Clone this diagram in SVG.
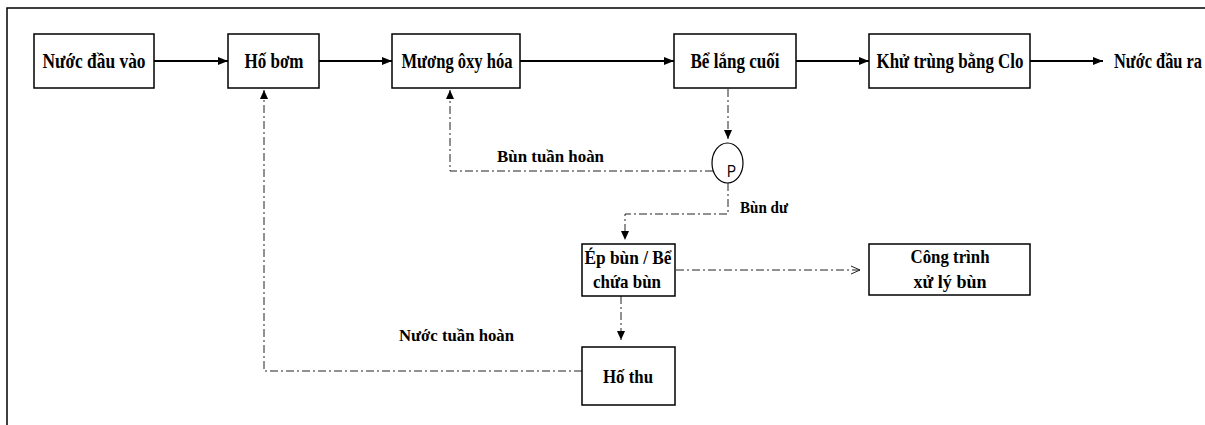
<svg xmlns="http://www.w3.org/2000/svg" width="1205" height="425" viewBox="0 0 1205 425">
  <style>
    .box { fill: #fff; stroke: #000; stroke-width: 1.5; }
    .t { font-family: "Liberation Serif", "Times New Roman", serif; font-weight: bold; fill: #000; }
    .t20 { font-size: 21px; }
    .t18 { font-size: 19px; }
    .t17 { font-size: 17px; }
    .solid { fill: none; stroke: #000; stroke-width: 1.8; }
    .dd { fill: none; stroke: #222; stroke-width: 1; stroke-dasharray: 8 3 2 3; }
    .frame { fill: none; stroke: #000; stroke-width: 1.5; }
  </style>
  <defs>
    <marker id="ah" markerUnits="userSpaceOnUse" markerWidth="12" markerHeight="10" refX="10" refY="5" orient="auto">
      <path d="M0,1 L10,5 L0,9 Z" fill="#000"/>
    </marker>
    <marker id="ahd" markerUnits="userSpaceOnUse" markerWidth="12" markerHeight="10" refX="9" refY="5" orient="auto">
      <path d="M0,1 L9,5 L0,9 Z" fill="#000"/>
    </marker>
    <marker id="aho" markerUnits="userSpaceOnUse" markerWidth="12" markerHeight="12" refX="9" refY="5" orient="auto">
      <path d="M0,1 L9,5 L0,9" fill="none" stroke="#222" stroke-width="1"/>
    </marker>
  </defs>

  <path class="frame" d="M7,425 L7,8 L1205,8"/>

  <g id="connectors">
    <line class="solid" x1="154" y1="61" x2="228" y2="61" marker-end="url(#ah)"/>
    <line class="solid" x1="319" y1="61" x2="392" y2="61" marker-end="url(#ah)"/>
    <line class="solid" x1="520" y1="61" x2="674" y2="61" marker-end="url(#ah)"/>
    <line class="solid" x1="796" y1="61" x2="869" y2="61" marker-end="url(#ah)"/>
    <line class="solid" x1="1030" y1="61" x2="1103" y2="61" marker-end="url(#ah)"/>
    <path class="dd" d="M728,89 L728,139" marker-end="url(#ahd)"/>
    <path class="dd" d="M713,171 L450,171 L450,90" marker-end="url(#ahd)"/>
    <path class="dd" d="M728,183 L728,214 L625,214 L625,240" marker-end="url(#ahd)"/>
    <path class="dd" d="M676,270 L860,270" marker-end="url(#aho)"/>
    <path class="dd" d="M621,296 L621,340" marker-end="url(#ahd)"/>
    <path class="dd" d="M582,371 L264,371 L264,90" marker-end="url(#ahd)"/>
  </g>

  <g id="n-nuoc-dau-vao">
    <rect class="box" x="34" y="34" width="120" height="54"/>
    <text class="t t20" x="94" y="68" text-anchor="middle" textLength="103" lengthAdjust="spacingAndGlyphs">Nước đầu vào</text>
  </g>
  <g id="n-ho-bom">
    <rect class="box" x="228" y="34" width="91" height="54"/>
    <text class="t t20" x="274" y="68" text-anchor="middle" textLength="59" lengthAdjust="spacingAndGlyphs">Hố bơm</text>
  </g>
  <g id="n-muong">
    <rect class="box" x="392" y="34" width="128" height="54"/>
    <text class="t t20" x="457" y="68" text-anchor="middle" textLength="111" lengthAdjust="spacingAndGlyphs">Mương ôxy hóa</text>
  </g>
  <g id="n-be-lang">
    <rect class="box" x="674" y="34" width="122" height="54"/>
    <text class="t t20" x="735" y="68" text-anchor="middle" textLength="89" lengthAdjust="spacingAndGlyphs">Bể lắng cuối</text>
  </g>
  <g id="n-khu-trung">
    <rect class="box" x="869" y="34" width="161" height="54"/>
    <text class="t t20" x="950" y="68" text-anchor="middle" textLength="147" lengthAdjust="spacingAndGlyphs">Khử trùng bằng Clo</text>
  </g>
  <g id="n-nuoc-dau-ra">
    <text class="t" font-size="17" transform="translate(1114,68) scale(1,1.22)" x="0" y="0" textLength="88" lengthAdjust="spacingAndGlyphs">Nước đầu ra</text>
  </g>
  <g id="n-pump">
    <ellipse cx="727.5" cy="163" rx="15.5" ry="20" fill="#fff" stroke="#000" stroke-width="1.2"/>
    <text x="727" y="177" font-family="Liberation Sans, Arial, sans-serif" font-size="16" textLength="9" lengthAdjust="spacingAndGlyphs">P</text>
  </g>
  <g id="n-ep-bun">
    <rect class="box" x="582" y="244" width="93" height="52"/>
    <text class="t t18" x="628" y="264" text-anchor="middle" textLength="87" lengthAdjust="spacingAndGlyphs">Ép bùn / Bể</text>
    <text class="t t18" x="627" y="288" text-anchor="middle" textLength="68" lengthAdjust="spacingAndGlyphs">chứa bùn</text>
  </g>
  <g id="n-cong-trinh">
    <rect class="box" x="869" y="244" width="161" height="51"/>
    <text class="t t18" x="950" y="263" text-anchor="middle" textLength="79" lengthAdjust="spacingAndGlyphs">Công trình</text>
    <text class="t t18" x="950" y="288" text-anchor="middle" textLength="73" lengthAdjust="spacingAndGlyphs">xử lý bùn</text>
  </g>
  <g id="n-ho-thu">
    <rect class="box" x="582" y="347" width="93" height="58"/>
    <text class="t t18" x="628" y="383" text-anchor="middle" textLength="50" lengthAdjust="spacingAndGlyphs">Hố thu</text>
  </g>
  <g id="labels">
    <text class="t t17" x="497" y="162" textLength="107" lengthAdjust="spacingAndGlyphs">Bùn tuần hoàn</text>
    <text class="t t17" x="740" y="213" textLength="48" lengthAdjust="spacingAndGlyphs">Bùn dư</text>
    <text class="t t17" x="399" y="341" textLength="115" lengthAdjust="spacingAndGlyphs">Nước tuần hoàn</text>
  </g>
</svg>
